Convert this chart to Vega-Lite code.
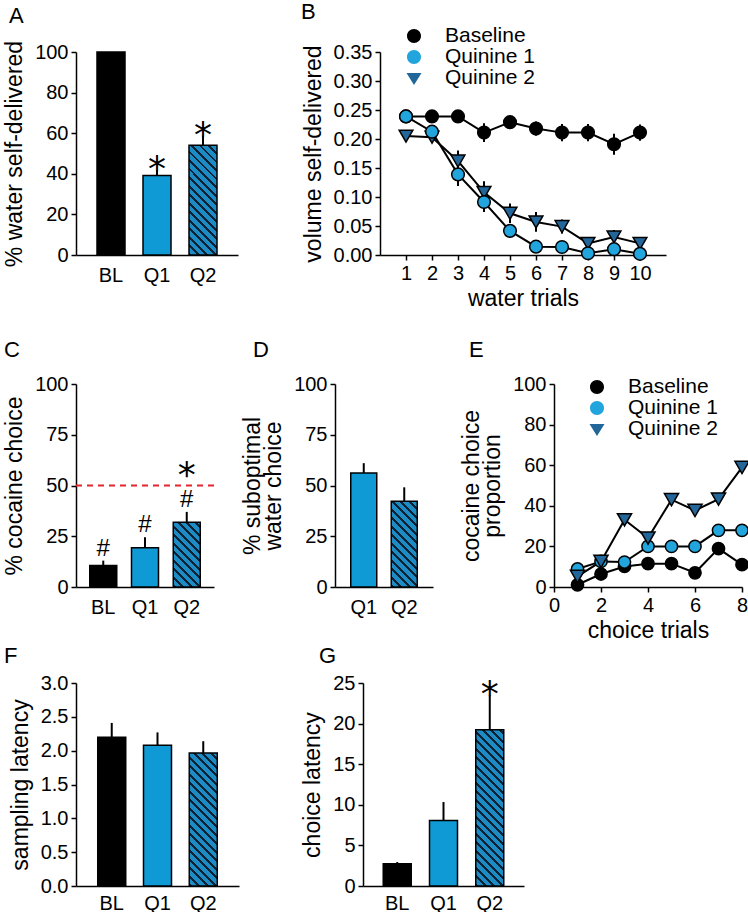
{
"$schema": "https://vega.github.io/schema/vega-lite/v6.json",
"padding": {"left": 3, "top": 1, "right": 0, "bottom": 0},
"background": "white",
"config": {
  "font": "Liberation Sans",
  "view": {"stroke": null},
  "axis": {"grid": false, "domainColor": "black", "domainWidth": 1.5, "tickColor": "black", "tickWidth": 1.5, "tickSize": 5, "labelFont": "Liberation Sans", "labelFontSize": 20, "labelColor": "black", "titleFont": "Liberation Sans", "titleFontSize": 23, "titleFontWeight": "normal", "titleColor": "black", "labelPadding": 3, "titlePadding": 8, "labelFlush": false, "labelOverlap": false},
  "axisX": {"labelAngle": 0},
  "axisBand": {"ticks": false, "labelPadding": 10},
  "title": {"font": "Liberation Sans", "fontSize": 22, "fontWeight": "normal", "anchor": "start", "frame": "group", "color": "black", "baseline": "alphabetic"}
},
"datasets": {
  "bars": [
    {"panel": "A", "cond": "BL", "mean": 100, "hi": 100, "star": "", "hash": ""},
    {"panel": "A", "cond": "Q1", "mean": 39.2, "hi": 41.8, "star": "*", "hash": ""},
    {"panel": "A", "cond": "Q2", "mean": 54.1, "hi": 58.8, "star": "*", "hash": ""},
    {"panel": "C", "cond": "BL", "mean": 10.6, "hi": 13, "star": "", "hash": "#"},
    {"panel": "C", "cond": "Q1", "mean": 19.3, "hi": 24.5, "star": "", "hash": "#"},
    {"panel": "C", "cond": "Q2", "mean": 31.9, "hi": 37, "star": "*", "hash": "#"},
    {"panel": "D", "cond": "Q1", "mean": 56.2, "hi": 61, "star": "", "hash": ""},
    {"panel": "D", "cond": "Q2", "mean": 42.2, "hi": 49.1, "star": "", "hash": ""},
    {"panel": "F", "cond": "BL", "mean": 2.2, "hi": 2.41, "star": "", "hash": ""},
    {"panel": "F", "cond": "Q1", "mean": 2.08, "hi": 2.27, "star": "", "hash": ""},
    {"panel": "F", "cond": "Q2", "mean": 1.965, "hi": 2.14, "star": "", "hash": ""},
    {"panel": "G", "cond": "BL", "mean": 2.75, "hi": 2.95, "star": "", "hash": ""},
    {"panel": "G", "cond": "Q1", "mean": 8.08, "hi": 10.34, "star": "", "hash": ""},
    {"panel": "G", "cond": "Q2", "mean": 19.25, "hi": 23.47, "star": "*", "hash": ""}
  ],
  "water": [
    {"series": "Baseline", "trial": 1, "mean": 0.239, "sem": 0},
    {"series": "Baseline", "trial": 2, "mean": 0.239, "sem": 0},
    {"series": "Baseline", "trial": 3, "mean": 0.239, "sem": 0.003},
    {"series": "Baseline", "trial": 4, "mean": 0.211, "sem": 0.016},
    {"series": "Baseline", "trial": 5, "mean": 0.229, "sem": 0.006},
    {"series": "Baseline", "trial": 6, "mean": 0.218, "sem": 0.012},
    {"series": "Baseline", "trial": 7, "mean": 0.211, "sem": 0.015},
    {"series": "Baseline", "trial": 8, "mean": 0.211, "sem": 0.015},
    {"series": "Baseline", "trial": 9, "mean": 0.191, "sem": 0.018},
    {"series": "Baseline", "trial": 10, "mean": 0.211, "sem": 0.014},
    {"series": "Quinine 2", "trial": 1, "mean": 0.205, "sem": 0.004},
    {"series": "Quinine 2", "trial": 2, "mean": 0.203, "sem": 0.005},
    {"series": "Quinine 2", "trial": 3, "mean": 0.162, "sem": 0.018},
    {"series": "Quinine 2", "trial": 4, "mean": 0.108, "sem": 0.019},
    {"series": "Quinine 2", "trial": 5, "mean": 0.072, "sem": 0.017},
    {"series": "Quinine 2", "trial": 6, "mean": 0.057, "sem": 0.017},
    {"series": "Quinine 2", "trial": 7, "mean": 0.049, "sem": 0.012},
    {"series": "Quinine 2", "trial": 8, "mean": 0.02, "sem": 0.008},
    {"series": "Quinine 2", "trial": 9, "mean": 0.031, "sem": 0.012},
    {"series": "Quinine 2", "trial": 10, "mean": 0.02, "sem": 0.01},
    {"series": "Quinine 1", "trial": 1, "mean": 0.239, "sem": 0.004},
    {"series": "Quinine 1", "trial": 2, "mean": 0.2126, "sem": 0.006},
    {"series": "Quinine 1", "trial": 3, "mean": 0.139, "sem": 0.02},
    {"series": "Quinine 1", "trial": 4, "mean": 0.0913, "sem": 0.017},
    {"series": "Quinine 1", "trial": 5, "mean": 0.0416, "sem": 0.008},
    {"series": "Quinine 1", "trial": 6, "mean": 0.0144, "sem": 0.005},
    {"series": "Quinine 1", "trial": 7, "mean": 0.0138, "sem": 0.005},
    {"series": "Quinine 1", "trial": 8, "mean": 0.003, "sem": 0.003},
    {"series": "Quinine 1", "trial": 9, "mean": 0.01, "sem": 0.004},
    {"series": "Quinine 1", "trial": 10, "mean": 0.002, "sem": 0.002}
  ],
  "choice": [
    {"series": "Baseline", "trial": 1, "pct": 1.1},
    {"series": "Baseline", "trial": 2, "pct": 6.4},
    {"series": "Baseline", "trial": 3, "pct": 10.1},
    {"series": "Baseline", "trial": 4, "pct": 11.5},
    {"series": "Baseline", "trial": 5, "pct": 11.5},
    {"series": "Baseline", "trial": 6, "pct": 7.0},
    {"series": "Baseline", "trial": 7, "pct": 18.9},
    {"series": "Baseline", "trial": 8, "pct": 11.0},
    {"series": "Quinine 1", "trial": 1, "pct": 8.9},
    {"series": "Quinine 1", "trial": 2, "pct": 12.6},
    {"series": "Quinine 1", "trial": 3, "pct": 12.3},
    {"series": "Quinine 1", "trial": 4, "pct": 20},
    {"series": "Quinine 1", "trial": 5, "pct": 20},
    {"series": "Quinine 1", "trial": 6, "pct": 20},
    {"series": "Quinine 1", "trial": 7, "pct": 27.9},
    {"series": "Quinine 1", "trial": 8, "pct": 27.9},
    {"series": "Quinine 2", "trial": 1, "pct": 5.2},
    {"series": "Quinine 2", "trial": 2, "pct": 12.6},
    {"series": "Quinine 2", "trial": 3, "pct": 33.1},
    {"series": "Quinine 2", "trial": 4, "pct": 24.1},
    {"series": "Quinine 2", "trial": 5, "pct": 43.0},
    {"series": "Quinine 2", "trial": 6, "pct": 37.7},
    {"series": "Quinine 2", "trial": 7, "pct": 43.3},
    {"series": "Quinine 2", "trial": 8, "pct": 58.9}
  ]
},
"bounds": "flush",
"spacing": 332,
"resolve": {"scale": {"fill": "independent", "shape": "independent"}, "legend": {"fill": "independent", "shape": "independent"}},
"vconcat": [
  {
    "bounds": "flush",
    "spacing": 142,
    "resolve": {"scale": {"fill": "independent", "shape": "independent"}, "legend": {"fill": "independent", "shape": "independent"}},
    "hconcat": [
      {
        "width": 162, "height": 203,
        "title": {"text": "A", "dx": -67, "offset": 12},
        "data": {"name": "bars"},
        "transform": [{"filter": "datum.panel === 'A'"}],
        "encoding": {
          "y": {"field": "mean", "type": "quantitative", "scale": {"domain": [0, 100], "nice": false}, "axis": {"values": [0, 20, 40, 60, 80, 100], "title": "% water self-delivered"}}
        },
        "layer": [
          {"transform": [{"filter": "datum.cond !== 'Q2'"}], "mark": {"type": "bar", "size": 28, "stroke": "black", "strokeWidth": 1.5},
           "encoding": {"x": {"field": "cond", "type": "nominal", "sort": null, "scale": {"domain": ["BL", "Q1", "Q2"], "paddingInner": 0.4, "paddingOuter": 0.461}, "axis": {"title": null}},
                        "fill": {"condition": {"test": "datum.cond === 'BL'", "value": "#000000"}, "value": "#0f9ad6"}}},
          {"transform": [{"filter": "datum.cond === 'Q2'"}], "mark": {"type": "bar", "size": 28, "stroke": "black", "strokeWidth": 1.5,
            "fill": {"gradient": "linear", "x1": 0, "y1": 1, "x2": 0.4078, "y2": -0.599, "stops": [
{"offset":0,"color":"#0c2236"},{"offset":0.0159,"color":"#0c2236"},{"offset":0.0159,"color":"#1e8cc4"},{"offset":0.0455,"color":"#1e8cc4"},
{"offset":0.0455,"color":"#0c2236"},{"offset":0.0614,"color":"#0c2236"},{"offset":0.0614,"color":"#1e8cc4"},{"offset":0.0909,"color":"#1e8cc4"},
{"offset":0.0909,"color":"#0c2236"},{"offset":0.1068,"color":"#0c2236"},{"offset":0.1068,"color":"#1e8cc4"},{"offset":0.1364,"color":"#1e8cc4"},
{"offset":0.1364,"color":"#0c2236"},{"offset":0.1523,"color":"#0c2236"},{"offset":0.1523,"color":"#1e8cc4"},{"offset":0.1818,"color":"#1e8cc4"},
{"offset":0.1818,"color":"#0c2236"},{"offset":0.1977,"color":"#0c2236"},{"offset":0.1977,"color":"#1e8cc4"},{"offset":0.2273,"color":"#1e8cc4"},
{"offset":0.2273,"color":"#0c2236"},{"offset":0.2432,"color":"#0c2236"},{"offset":0.2432,"color":"#1e8cc4"},{"offset":0.2727,"color":"#1e8cc4"},
{"offset":0.2727,"color":"#0c2236"},{"offset":0.2886,"color":"#0c2236"},{"offset":0.2886,"color":"#1e8cc4"},{"offset":0.3182,"color":"#1e8cc4"},
{"offset":0.3182,"color":"#0c2236"},{"offset":0.3341,"color":"#0c2236"},{"offset":0.3341,"color":"#1e8cc4"},{"offset":0.3636,"color":"#1e8cc4"},
{"offset":0.3636,"color":"#0c2236"},{"offset":0.3795,"color":"#0c2236"},{"offset":0.3795,"color":"#1e8cc4"},{"offset":0.4091,"color":"#1e8cc4"},
{"offset":0.4091,"color":"#0c2236"},{"offset":0.425,"color":"#0c2236"},{"offset":0.425,"color":"#1e8cc4"},{"offset":0.4545,"color":"#1e8cc4"},
{"offset":0.4545,"color":"#0c2236"},{"offset":0.4705,"color":"#0c2236"},{"offset":0.4705,"color":"#1e8cc4"},{"offset":0.5,"color":"#1e8cc4"},
{"offset":0.5,"color":"#0c2236"},{"offset":0.5159,"color":"#0c2236"},{"offset":0.5159,"color":"#1e8cc4"},{"offset":0.5455,"color":"#1e8cc4"},
{"offset":0.5455,"color":"#0c2236"},{"offset":0.5614,"color":"#0c2236"},{"offset":0.5614,"color":"#1e8cc4"},{"offset":0.5909,"color":"#1e8cc4"},
{"offset":0.5909,"color":"#0c2236"},{"offset":0.6068,"color":"#0c2236"},{"offset":0.6068,"color":"#1e8cc4"},{"offset":0.6364,"color":"#1e8cc4"},
{"offset":0.6364,"color":"#0c2236"},{"offset":0.6523,"color":"#0c2236"},{"offset":0.6523,"color":"#1e8cc4"},{"offset":0.6818,"color":"#1e8cc4"},
{"offset":0.6818,"color":"#0c2236"},{"offset":0.6977,"color":"#0c2236"},{"offset":0.6977,"color":"#1e8cc4"},{"offset":0.7273,"color":"#1e8cc4"},
{"offset":0.7273,"color":"#0c2236"},{"offset":0.7432,"color":"#0c2236"},{"offset":0.7432,"color":"#1e8cc4"},{"offset":0.7727,"color":"#1e8cc4"}
            ]}},
           "encoding": {"x": {"field": "cond", "type": "nominal", "sort": null}}},
          {"mark": {"type": "rule", "color": "black", "strokeWidth": 2},
           "encoding": {"x": {"field": "cond", "type": "nominal", "sort": null}, "y2": {"field": "hi"}}},
          {"transform": [{"filter": "datum.star !== ''"}], "mark": {"type": "text", "font": "DejaVu Sans", "fontSize": 36, "baseline": "alphabetic", "dy": 11, "color": "black"},
           "encoding": {"x": {"field": "cond", "type": "nominal", "sort": null}, "y": {"field": "hi", "type": "quantitative"}, "text": {"field": "star"}}}
        ]
      },
      {
        "width": 286, "height": 203,
        "title": {"text": "B", "dx": -79, "offset": 1},
        "data": {"name": "water"},
        "encoding": {
          "x": {"field": "trial", "type": "quantitative", "scale": {"domain": [0, 11], "nice": false}, "axis": {"values": [1, 2, 3, 4, 5, 6, 7, 8, 9, 10], "title": "water trials", "titlePadding": 4}},
          "y": {"field": "mean", "type": "quantitative", "scale": {"domain": [0, 0.35], "nice": false}, "axis": {"values": [0, 0.05, 0.1, 0.15, 0.2, 0.25, 0.3, 0.35], "format": ".2f", "title": "volume self-delivered"}}
        },
        "layer": [
          {"mark": {"type": "errorbar", "ticks": false, "color": "black", "thickness": 2}, "encoding": {"yError": {"field": "sem"}}},
          {"mark": {"type": "line", "color": "black", "strokeWidth": 2}, "encoding": {"detail": {"field": "series", "type": "nominal"}}},
          {"transform": [{"filter": "false"}],
           "mark": {"type": "point", "filled": true, "stroke": "black", "strokeWidth": 1.5, "opacity": 1},
           "encoding": {
             "fill": {"field": "series", "type": "nominal", "scale": {"domain": ["Baseline", "Quinine 1", "Quinine 2"], "range": ["#000000", "#22a4dd", "#23679a"]},
               "legend": {"title": null, "orient": "none", "legendX": 23, "legendY": -27, "symbolSize": 400, "labelFont": "Liberation Sans", "labelFontSize": 21, "labelColor": "black", "labelOffset": 20, "rowPadding": 0, "symbolStrokeColor": "black", "symbolStrokeWidth": 1.5, "symbolOpacity": 1}},
             "shape": {"field": "series", "type": "nominal", "scale": {"domain": ["Baseline", "Quinine 1", "Quinine 2"], "range": ["M-2.3,0H-0.7M0.7,0H2.3M-0.7,0A0.7,0.7 0 1,1 0.7,0A0.7,0.7 0 1,1 -0.7,0Z", "M-2.3,0H-0.7M0.7,0H2.3M-0.7,0A0.7,0.7 0 1,1 0.7,0A0.7,0.7 0 1,1 -0.7,0Z", "M-2.3,0H-0.44M0.44,0H2.3M-0.75,-0.5L0.75,-0.5L0,0.7Z"]},
               "legend": {"title": null, "orient": "none", "legendX": 23, "legendY": -27, "symbolSize": 400, "labelFont": "Liberation Sans", "labelFontSize": 21, "labelColor": "black", "labelOffset": 20, "rowPadding": 0, "symbolStrokeColor": "black", "symbolStrokeWidth": 1.5, "symbolOpacity": 1}}
           }},
          {"transform": [{"filter": "datum.series === 'Quinine 2'"}],
           "mark": {"type": "point", "shape": "triangle-down", "filled": true, "stroke": "black", "strokeWidth": 1.5, "opacity": 1, "size": 190},
           "encoding": {
             "fill": {"field": "series", "type": "nominal",
               "legend": {"title": null, "orient": "none", "legendX": 23, "legendY": -27, "symbolSize": 400, "labelFont": "Liberation Sans", "labelFontSize": 21, "labelColor": "black", "labelOffset": 20, "rowPadding": 0, "symbolStrokeColor": "black", "symbolStrokeWidth": 1.5, "symbolOpacity": 1}}
           }},
          {"transform": [{"filter": "datum.series !== 'Quinine 2'"}],
           "mark": {"type": "point", "shape": "circle", "filled": true, "stroke": "black", "strokeWidth": 1.5, "opacity": 1, "size": 160},
           "encoding": {
             "fill": {"field": "series", "type": "nominal",
               "legend": {"title": null, "orient": "none", "legendX": 23, "legendY": -27, "symbolSize": 400, "labelFont": "Liberation Sans", "labelFontSize": 21, "labelColor": "black", "labelOffset": 20, "rowPadding": 0, "symbolStrokeColor": "black", "symbolStrokeWidth": 1.5, "symbolOpacity": 1}}
           }}
        ]
      }
    ]
  },
  {
    "bounds": "flush",
    "spacing": 299,
    "resolve": {"scale": {"fill": "independent", "shape": "independent"}, "legend": {"fill": "independent", "shape": "independent"}},
    "vconcat": [
      {
        "bounds": "flush",
        "spacing": 121,
        "resolve": {"scale": {"fill": "independent", "shape": "independent"}, "legend": {"fill": "independent", "shape": "independent"}},
        "hconcat": [
          {
            "width": 138, "height": 203,
            "title": {"text": "C", "dx": -72, "offset": 12},
            "data": {"name": "bars"},
            "transform": [{"filter": "datum.panel === 'C'"}],
            "encoding": {
              "y": {"field": "mean", "type": "quantitative", "scale": {"domain": [0, 100], "nice": false}, "axis": {"values": [0, 25, 50, 75, 100], "title": "% cocaine choice"}}
            },
            "layer": [
              {"transform": [{"filter": "datum.cond !== 'Q2'"}], "mark": {"type": "bar", "size": 27, "stroke": "black", "strokeWidth": 1.5},
               "encoding": {"x": {"field": "cond", "type": "nominal", "sort": null, "scale": {"domain": ["BL", "Q1", "Q2"], "paddingInner": 0.4, "paddingOuter": 0.353}, "axis": {"title": null}},
                            "fill": {"condition": {"test": "datum.cond === 'BL'", "value": "#000000"}, "value": "#0f9ad6"}}},
              {"transform": [{"filter": "datum.cond === 'Q2'"}], "mark": {"type": "bar", "size": 27, "stroke": "black", "strokeWidth": 1.5,
                "fill": {"gradient": "linear", "x1": 0, "y1": 1, "x2": 1.0246, "y2": -1.459, "stops": [
{"offset":0,"color":"#0c2236"},{"offset":0.0159,"color":"#0c2236"},{"offset":0.0159,"color":"#1e8cc4"},{"offset":0.0455,"color":"#1e8cc4"},
{"offset":0.0455,"color":"#0c2236"},{"offset":0.0614,"color":"#0c2236"},{"offset":0.0614,"color":"#1e8cc4"},{"offset":0.0909,"color":"#1e8cc4"},
{"offset":0.0909,"color":"#0c2236"},{"offset":0.1068,"color":"#0c2236"},{"offset":0.1068,"color":"#1e8cc4"},{"offset":0.1364,"color":"#1e8cc4"},
{"offset":0.1364,"color":"#0c2236"},{"offset":0.1523,"color":"#0c2236"},{"offset":0.1523,"color":"#1e8cc4"},{"offset":0.1818,"color":"#1e8cc4"},
{"offset":0.1818,"color":"#0c2236"},{"offset":0.1977,"color":"#0c2236"},{"offset":0.1977,"color":"#1e8cc4"},{"offset":0.2273,"color":"#1e8cc4"},
{"offset":0.2273,"color":"#0c2236"},{"offset":0.2432,"color":"#0c2236"},{"offset":0.2432,"color":"#1e8cc4"},{"offset":0.2727,"color":"#1e8cc4"},
{"offset":0.2727,"color":"#0c2236"},{"offset":0.2886,"color":"#0c2236"},{"offset":0.2886,"color":"#1e8cc4"},{"offset":0.3182,"color":"#1e8cc4"},
{"offset":0.3182,"color":"#0c2236"},{"offset":0.3341,"color":"#0c2236"},{"offset":0.3341,"color":"#1e8cc4"},{"offset":0.3636,"color":"#1e8cc4"},
{"offset":0.3636,"color":"#0c2236"},{"offset":0.3795,"color":"#0c2236"},{"offset":0.3795,"color":"#1e8cc4"},{"offset":0.4091,"color":"#1e8cc4"},
{"offset":0.4091,"color":"#0c2236"},{"offset":0.425,"color":"#0c2236"},{"offset":0.425,"color":"#1e8cc4"},{"offset":0.4545,"color":"#1e8cc4"},
{"offset":0.4545,"color":"#0c2236"},{"offset":0.4705,"color":"#0c2236"},{"offset":0.4705,"color":"#1e8cc4"},{"offset":0.5,"color":"#1e8cc4"}
                ]}},
               "encoding": {"x": {"field": "cond", "type": "nominal", "sort": null}}},
              {"transform": [{"filter": "datum.cond === 'BL'"}], "mark": {"type": "rule", "color": "#e2262c", "strokeWidth": 2, "strokeDash": [6, 5]},
               "encoding": {"y": {"datum": 50}}},
              {"mark": {"type": "rule", "color": "black", "strokeWidth": 2},
               "encoding": {"x": {"field": "cond", "type": "nominal", "sort": null}, "y2": {"field": "hi"}}},
              {"transform": [{"filter": "datum.hash !== ''"}], "mark": {"type": "text", "font": "Liberation Sans", "fontSize": 24, "baseline": "alphabetic", "dy": -5, "color": "black"},
               "encoding": {"x": {"field": "cond", "type": "nominal", "sort": null}, "y": {"field": "hi", "type": "quantitative"}, "text": {"field": "hash"}}},
              {"transform": [{"filter": "datum.star !== ''"}], "mark": {"type": "text", "font": "DejaVu Sans", "fontSize": 36, "baseline": "alphabetic", "dy": -25, "color": "black"},
               "encoding": {"x": {"field": "cond", "type": "nominal", "sort": null}, "y": {"field": "hi", "type": "quantitative"}, "text": {"field": "star"}}}
            ]
          },
          {
            "width": 98, "height": 203,
            "title": {"text": "D", "dx": -82, "offset": 12},
            "data": {"name": "bars"},
            "transform": [{"filter": "datum.panel === 'D'"}],
            "encoding": {
              "y": {"field": "mean", "type": "quantitative", "scale": {"domain": [0, 100], "nice": false}, "axis": {"values": [0, 25, 50, 75, 100], "title": ["% suboptimal", "water choice"], "titleLineHeight": 21}}
            },
            "layer": [
              {"transform": [{"filter": "datum.cond !== 'Q2'"}], "mark": {"type": "bar", "size": 26, "stroke": "black", "strokeWidth": 1.5, "fill": "#0f9ad6"},
               "encoding": {"x": {"field": "cond", "type": "nominal", "sort": null, "scale": {"domain": ["Q1", "Q2"], "paddingInner": 0.4, "paddingOuter": 0.41}, "axis": {"title": null}}}},
              {"transform": [{"filter": "datum.cond === 'Q2'"}], "mark": {"type": "bar", "size": 26, "stroke": "black", "strokeWidth": 1.5,
                "fill": {"gradient": "linear", "x1": 0, "y1": 1, "x2": 0.6062, "y2": -0.998, "stops": [
{"offset":0,"color":"#0c2236"},{"offset":0.0159,"color":"#0c2236"},{"offset":0.0159,"color":"#1e8cc4"},{"offset":0.0455,"color":"#1e8cc4"},
{"offset":0.0455,"color":"#0c2236"},{"offset":0.0614,"color":"#0c2236"},{"offset":0.0614,"color":"#1e8cc4"},{"offset":0.0909,"color":"#1e8cc4"},
{"offset":0.0909,"color":"#0c2236"},{"offset":0.1068,"color":"#0c2236"},{"offset":0.1068,"color":"#1e8cc4"},{"offset":0.1364,"color":"#1e8cc4"},
{"offset":0.1364,"color":"#0c2236"},{"offset":0.1523,"color":"#0c2236"},{"offset":0.1523,"color":"#1e8cc4"},{"offset":0.1818,"color":"#1e8cc4"},
{"offset":0.1818,"color":"#0c2236"},{"offset":0.1977,"color":"#0c2236"},{"offset":0.1977,"color":"#1e8cc4"},{"offset":0.2273,"color":"#1e8cc4"},
{"offset":0.2273,"color":"#0c2236"},{"offset":0.2432,"color":"#0c2236"},{"offset":0.2432,"color":"#1e8cc4"},{"offset":0.2727,"color":"#1e8cc4"},
{"offset":0.2727,"color":"#0c2236"},{"offset":0.2886,"color":"#0c2236"},{"offset":0.2886,"color":"#1e8cc4"},{"offset":0.3182,"color":"#1e8cc4"},
{"offset":0.3182,"color":"#0c2236"},{"offset":0.3341,"color":"#0c2236"},{"offset":0.3341,"color":"#1e8cc4"},{"offset":0.3636,"color":"#1e8cc4"},
{"offset":0.3636,"color":"#0c2236"},{"offset":0.3795,"color":"#0c2236"},{"offset":0.3795,"color":"#1e8cc4"},{"offset":0.4091,"color":"#1e8cc4"},
{"offset":0.4091,"color":"#0c2236"},{"offset":0.425,"color":"#0c2236"},{"offset":0.425,"color":"#1e8cc4"},{"offset":0.4545,"color":"#1e8cc4"},
{"offset":0.4545,"color":"#0c2236"},{"offset":0.4705,"color":"#0c2236"},{"offset":0.4705,"color":"#1e8cc4"},{"offset":0.5,"color":"#1e8cc4"},
{"offset":0.5,"color":"#0c2236"},{"offset":0.5159,"color":"#0c2236"},{"offset":0.5159,"color":"#1e8cc4"},{"offset":0.5455,"color":"#1e8cc4"},
{"offset":0.5455,"color":"#0c2236"},{"offset":0.5614,"color":"#0c2236"},{"offset":0.5614,"color":"#1e8cc4"},{"offset":0.5909,"color":"#1e8cc4"},
{"offset":0.5909,"color":"#0c2236"},{"offset":0.6068,"color":"#0c2236"},{"offset":0.6068,"color":"#1e8cc4"},{"offset":0.6364,"color":"#1e8cc4"}
                ]}},
               "encoding": {"x": {"field": "cond", "type": "nominal", "sort": null}}},
              {"mark": {"type": "rule", "color": "black", "strokeWidth": 2},
               "encoding": {"x": {"field": "cond", "type": "nominal", "sort": null}, "y2": {"field": "hi"}}}
            ]
          },
          {
            "width": 188, "height": 203,
            "title": {"text": "E", "dx": -85, "offset": 12},
            "data": {"name": "choice"},
            "encoding": {
              "x": {"field": "trial", "type": "quantitative", "scale": {"domain": [0, 8], "nice": false}, "axis": {"values": [0, 2, 4, 6, 8], "title": "choice trials", "titlePadding": 4}},
              "y": {"field": "pct", "type": "quantitative", "scale": {"domain": [0, 100], "nice": false}, "axis": {"values": [0, 20, 40, 60, 80, 100], "title": ["cocaine choice", "proportion"], "titleLineHeight": 21}}
            },
            "layer": [
              {"mark": {"type": "line", "color": "black", "strokeWidth": 2}, "encoding": {"detail": {"field": "series", "type": "nominal"}}},
              {"transform": [{"filter": "false"}],
               "mark": {"type": "point", "filled": true, "stroke": "black", "strokeWidth": 1.5, "opacity": 1},
               "encoding": {
                 "fill": {"field": "series", "type": "nominal", "scale": {"domain": ["Baseline", "Quinine 1", "Quinine 2"], "range": ["#000000", "#22a4dd", "#23679a"]},
                   "legend": {"title": null, "orient": "none", "legendX": 32, "legendY": -8, "symbolSize": 400, "labelFont": "Liberation Sans", "labelFontSize": 21, "labelColor": "black", "labelOffset": 20, "rowPadding": 0, "symbolStrokeColor": "black", "symbolStrokeWidth": 1.5, "symbolOpacity": 1}},
                 "shape": {"field": "series", "type": "nominal", "scale": {"domain": ["Baseline", "Quinine 1", "Quinine 2"], "range": ["M-2.3,0H-0.7M0.7,0H2.3M-0.7,0A0.7,0.7 0 1,1 0.7,0A0.7,0.7 0 1,1 -0.7,0Z", "M-2.3,0H-0.7M0.7,0H2.3M-0.7,0A0.7,0.7 0 1,1 0.7,0A0.7,0.7 0 1,1 -0.7,0Z", "M-2.3,0H-0.44M0.44,0H2.3M-0.75,-0.5L0.75,-0.5L0,0.7Z"]},
                   "legend": {"title": null, "orient": "none", "legendX": 32, "legendY": -8, "symbolSize": 400, "labelFont": "Liberation Sans", "labelFontSize": 21, "labelColor": "black", "labelOffset": 20, "rowPadding": 0, "symbolStrokeColor": "black", "symbolStrokeWidth": 1.5, "symbolOpacity": 1}}
               }},
              {"transform": [{"filter": "datum.series !== 'Quinine 2'"}],
               "mark": {"type": "point", "shape": "circle", "filled": true, "stroke": "black", "strokeWidth": 1.5, "opacity": 1, "size": 150},
               "encoding": {
                 "fill": {"field": "series", "type": "nominal",
                   "legend": {"title": null, "orient": "none", "legendX": 32, "legendY": -8, "symbolSize": 400, "labelFont": "Liberation Sans", "labelFontSize": 21, "labelColor": "black", "labelOffset": 20, "rowPadding": 0, "symbolStrokeColor": "black", "symbolStrokeWidth": 1.5, "symbolOpacity": 1}}
               }},
              {"transform": [{"filter": "datum.series === 'Quinine 2'"}],
               "mark": {"type": "point", "shape": "triangle-down", "filled": true, "stroke": "black", "strokeWidth": 1.5, "opacity": 1, "size": 200},
               "encoding": {
                 "fill": {"field": "series", "type": "nominal",
                   "legend": {"title": null, "orient": "none", "legendX": 32, "legendY": -8, "symbolSize": 400, "labelFont": "Liberation Sans", "labelFontSize": 21, "labelColor": "black", "labelOffset": 20, "rowPadding": 0, "symbolStrokeColor": "black", "symbolStrokeWidth": 1.5, "symbolOpacity": 1}}
               }}
            ]
          }
        ]
      },
      {
        "bounds": "flush",
        "spacing": 124,
        "hconcat": [
          {
            "width": 163, "height": 203,
            "title": {"text": "F", "dx": -72, "offset": 5},
            "data": {"name": "bars"},
            "transform": [{"filter": "datum.panel === 'F'"}],
            "encoding": {
              "y": {"field": "mean", "type": "quantitative", "scale": {"domain": [0, 3], "nice": false}, "axis": {"values": [0, 0.5, 1, 1.5, 2, 2.5, 3], "format": ".1f", "title": "sampling latency"}}
            },
            "layer": [
              {"transform": [{"filter": "datum.cond !== 'Q2'"}], "mark": {"type": "bar", "size": 28, "stroke": "black", "strokeWidth": 1.5},
               "encoding": {"x": {"field": "cond", "type": "nominal", "sort": null, "scale": {"domain": ["BL", "Q1", "Q2"], "paddingInner": 0.4, "paddingOuter": 0.481}, "axis": {"title": null, "labelPadding": 7}},
                            "fill": {"condition": {"test": "datum.cond === 'BL'", "value": "#000000"}, "value": "#0f9ad6"}}},
              {"transform": [{"filter": "datum.cond === 'Q2'"}], "mark": {"type": "bar", "size": 28, "stroke": "black", "strokeWidth": 1.5,
                "fill": {"gradient": "linear", "x1": 0, "y1": 1, "x2": 0.2834, "y2": -0.346, "stops": [
{"offset":0,"color":"#0c2236"},{"offset":0.0159,"color":"#0c2236"},{"offset":0.0159,"color":"#1e8cc4"},{"offset":0.0455,"color":"#1e8cc4"},
{"offset":0.0455,"color":"#0c2236"},{"offset":0.0614,"color":"#0c2236"},{"offset":0.0614,"color":"#1e8cc4"},{"offset":0.0909,"color":"#1e8cc4"},
{"offset":0.0909,"color":"#0c2236"},{"offset":0.1068,"color":"#0c2236"},{"offset":0.1068,"color":"#1e8cc4"},{"offset":0.1364,"color":"#1e8cc4"},
{"offset":0.1364,"color":"#0c2236"},{"offset":0.1523,"color":"#0c2236"},{"offset":0.1523,"color":"#1e8cc4"},{"offset":0.1818,"color":"#1e8cc4"},
{"offset":0.1818,"color":"#0c2236"},{"offset":0.1977,"color":"#0c2236"},{"offset":0.1977,"color":"#1e8cc4"},{"offset":0.2273,"color":"#1e8cc4"},
{"offset":0.2273,"color":"#0c2236"},{"offset":0.2432,"color":"#0c2236"},{"offset":0.2432,"color":"#1e8cc4"},{"offset":0.2727,"color":"#1e8cc4"},
{"offset":0.2727,"color":"#0c2236"},{"offset":0.2886,"color":"#0c2236"},{"offset":0.2886,"color":"#1e8cc4"},{"offset":0.3182,"color":"#1e8cc4"},
{"offset":0.3182,"color":"#0c2236"},{"offset":0.3341,"color":"#0c2236"},{"offset":0.3341,"color":"#1e8cc4"},{"offset":0.3636,"color":"#1e8cc4"},
{"offset":0.3636,"color":"#0c2236"},{"offset":0.3795,"color":"#0c2236"},{"offset":0.3795,"color":"#1e8cc4"},{"offset":0.4091,"color":"#1e8cc4"},
{"offset":0.4091,"color":"#0c2236"},{"offset":0.425,"color":"#0c2236"},{"offset":0.425,"color":"#1e8cc4"},{"offset":0.4545,"color":"#1e8cc4"},
{"offset":0.4545,"color":"#0c2236"},{"offset":0.4705,"color":"#0c2236"},{"offset":0.4705,"color":"#1e8cc4"},{"offset":0.5,"color":"#1e8cc4"},
{"offset":0.5,"color":"#0c2236"},{"offset":0.5159,"color":"#0c2236"},{"offset":0.5159,"color":"#1e8cc4"},{"offset":0.5455,"color":"#1e8cc4"},
{"offset":0.5455,"color":"#0c2236"},{"offset":0.5614,"color":"#0c2236"},{"offset":0.5614,"color":"#1e8cc4"},{"offset":0.5909,"color":"#1e8cc4"},
{"offset":0.5909,"color":"#0c2236"},{"offset":0.6068,"color":"#0c2236"},{"offset":0.6068,"color":"#1e8cc4"},{"offset":0.6364,"color":"#1e8cc4"},
{"offset":0.6364,"color":"#0c2236"},{"offset":0.6523,"color":"#0c2236"},{"offset":0.6523,"color":"#1e8cc4"},{"offset":0.6818,"color":"#1e8cc4"},
{"offset":0.6818,"color":"#0c2236"},{"offset":0.6977,"color":"#0c2236"},{"offset":0.6977,"color":"#1e8cc4"},{"offset":0.7273,"color":"#1e8cc4"},
{"offset":0.7273,"color":"#0c2236"},{"offset":0.7432,"color":"#0c2236"},{"offset":0.7432,"color":"#1e8cc4"},{"offset":0.7727,"color":"#1e8cc4"},
{"offset":0.7727,"color":"#0c2236"},{"offset":0.7886,"color":"#0c2236"},{"offset":0.7886,"color":"#1e8cc4"},{"offset":0.8182,"color":"#1e8cc4"},
{"offset":0.8182,"color":"#0c2236"},{"offset":0.8341,"color":"#0c2236"},{"offset":0.8341,"color":"#1e8cc4"},{"offset":0.8636,"color":"#1e8cc4"}
                ]}},
               "encoding": {"x": {"field": "cond", "type": "nominal", "sort": null}}},
              {"mark": {"type": "rule", "color": "black", "strokeWidth": 2},
               "encoding": {"x": {"field": "cond", "type": "nominal", "sort": null}, "y2": {"field": "hi"}}}
            ]
          },
          {
            "width": 161, "height": 203,
            "title": {"text": "G", "dx": -44, "offset": 5},
            "data": {"name": "bars"},
            "transform": [{"filter": "datum.panel === 'G'"}],
            "encoding": {
              "y": {"field": "mean", "type": "quantitative", "scale": {"domain": [0, 25], "nice": false}, "axis": {"values": [0, 5, 10, 15, 20, 25], "title": "choice latency"}}
            },
            "layer": [
              {"transform": [{"filter": "datum.cond !== 'Q2'"}], "mark": {"type": "bar", "size": 28, "stroke": "black", "strokeWidth": 1.5},
               "encoding": {"x": {"field": "cond", "type": "nominal", "sort": null, "scale": {"domain": ["BL", "Q1", "Q2"], "paddingInner": 0.4, "paddingOuter": 0.44}, "axis": {"title": null, "labelPadding": 7}},
                            "fill": {"condition": {"test": "datum.cond === 'BL'", "value": "#000000"}, "value": "#0f9ad6"}}},
              {"transform": [{"filter": "datum.cond === 'Q2'"}], "mark": {"type": "bar", "size": 28, "stroke": "black", "strokeWidth": 1.5,
                "fill": {"gradient": "linear", "x1": 0, "y1": 1, "x2": 0.2077, "y2": -0.159, "stops": [
{"offset":0,"color":"#0c2236"},{"offset":0.0159,"color":"#0c2236"},{"offset":0.0159,"color":"#1e8cc4"},{"offset":0.0455,"color":"#1e8cc4"},
{"offset":0.0455,"color":"#0c2236"},{"offset":0.0614,"color":"#0c2236"},{"offset":0.0614,"color":"#1e8cc4"},{"offset":0.0909,"color":"#1e8cc4"},
{"offset":0.0909,"color":"#0c2236"},{"offset":0.1068,"color":"#0c2236"},{"offset":0.1068,"color":"#1e8cc4"},{"offset":0.1364,"color":"#1e8cc4"},
{"offset":0.1364,"color":"#0c2236"},{"offset":0.1523,"color":"#0c2236"},{"offset":0.1523,"color":"#1e8cc4"},{"offset":0.1818,"color":"#1e8cc4"},
{"offset":0.1818,"color":"#0c2236"},{"offset":0.1977,"color":"#0c2236"},{"offset":0.1977,"color":"#1e8cc4"},{"offset":0.2273,"color":"#1e8cc4"},
{"offset":0.2273,"color":"#0c2236"},{"offset":0.2432,"color":"#0c2236"},{"offset":0.2432,"color":"#1e8cc4"},{"offset":0.2727,"color":"#1e8cc4"},
{"offset":0.2727,"color":"#0c2236"},{"offset":0.2886,"color":"#0c2236"},{"offset":0.2886,"color":"#1e8cc4"},{"offset":0.3182,"color":"#1e8cc4"},
{"offset":0.3182,"color":"#0c2236"},{"offset":0.3341,"color":"#0c2236"},{"offset":0.3341,"color":"#1e8cc4"},{"offset":0.3636,"color":"#1e8cc4"},
{"offset":0.3636,"color":"#0c2236"},{"offset":0.3795,"color":"#0c2236"},{"offset":0.3795,"color":"#1e8cc4"},{"offset":0.4091,"color":"#1e8cc4"},
{"offset":0.4091,"color":"#0c2236"},{"offset":0.425,"color":"#0c2236"},{"offset":0.425,"color":"#1e8cc4"},{"offset":0.4545,"color":"#1e8cc4"},
{"offset":0.4545,"color":"#0c2236"},{"offset":0.4705,"color":"#0c2236"},{"offset":0.4705,"color":"#1e8cc4"},{"offset":0.5,"color":"#1e8cc4"},
{"offset":0.5,"color":"#0c2236"},{"offset":0.5159,"color":"#0c2236"},{"offset":0.5159,"color":"#1e8cc4"},{"offset":0.5455,"color":"#1e8cc4"},
{"offset":0.5455,"color":"#0c2236"},{"offset":0.5614,"color":"#0c2236"},{"offset":0.5614,"color":"#1e8cc4"},{"offset":0.5909,"color":"#1e8cc4"},
{"offset":0.5909,"color":"#0c2236"},{"offset":0.6068,"color":"#0c2236"},{"offset":0.6068,"color":"#1e8cc4"},{"offset":0.6364,"color":"#1e8cc4"},
{"offset":0.6364,"color":"#0c2236"},{"offset":0.6523,"color":"#0c2236"},{"offset":0.6523,"color":"#1e8cc4"},{"offset":0.6818,"color":"#1e8cc4"},
{"offset":0.6818,"color":"#0c2236"},{"offset":0.6977,"color":"#0c2236"},{"offset":0.6977,"color":"#1e8cc4"},{"offset":0.7273,"color":"#1e8cc4"},
{"offset":0.7273,"color":"#0c2236"},{"offset":0.7432,"color":"#0c2236"},{"offset":0.7432,"color":"#1e8cc4"},{"offset":0.7727,"color":"#1e8cc4"},
{"offset":0.7727,"color":"#0c2236"},{"offset":0.7886,"color":"#0c2236"},{"offset":0.7886,"color":"#1e8cc4"},{"offset":0.8182,"color":"#1e8cc4"},
{"offset":0.8182,"color":"#0c2236"},{"offset":0.8341,"color":"#0c2236"},{"offset":0.8341,"color":"#1e8cc4"},{"offset":0.8636,"color":"#1e8cc4"},
{"offset":0.8636,"color":"#0c2236"},{"offset":0.8795,"color":"#0c2236"},{"offset":0.8795,"color":"#1e8cc4"},{"offset":0.9091,"color":"#1e8cc4"},
{"offset":0.9091,"color":"#0c2236"},{"offset":0.925,"color":"#0c2236"},{"offset":0.925,"color":"#1e8cc4"},{"offset":0.9545,"color":"#1e8cc4"},
{"offset":0.9545,"color":"#0c2236"},{"offset":0.9705,"color":"#0c2236"},{"offset":0.9705,"color":"#1e8cc4"},{"offset":1,"color":"#1e8cc4"}
                ]}},
               "encoding": {"x": {"field": "cond", "type": "nominal", "sort": null}}},
              {"mark": {"type": "rule", "color": "black", "strokeWidth": 2},
               "encoding": {"x": {"field": "cond", "type": "nominal", "sort": null}, "y2": {"field": "hi"}}},
              {"transform": [{"filter": "datum.star !== ''"}], "mark": {"type": "text", "font": "DejaVu Sans", "fontSize": 36, "baseline": "alphabetic", "dy": 11, "color": "black"},
               "encoding": {"x": {"field": "cond", "type": "nominal", "sort": null}, "y": {"field": "hi", "type": "quantitative"}, "text": {"field": "star"}}}
            ]
          }
        ]
      }
    ]
  }
]
}
